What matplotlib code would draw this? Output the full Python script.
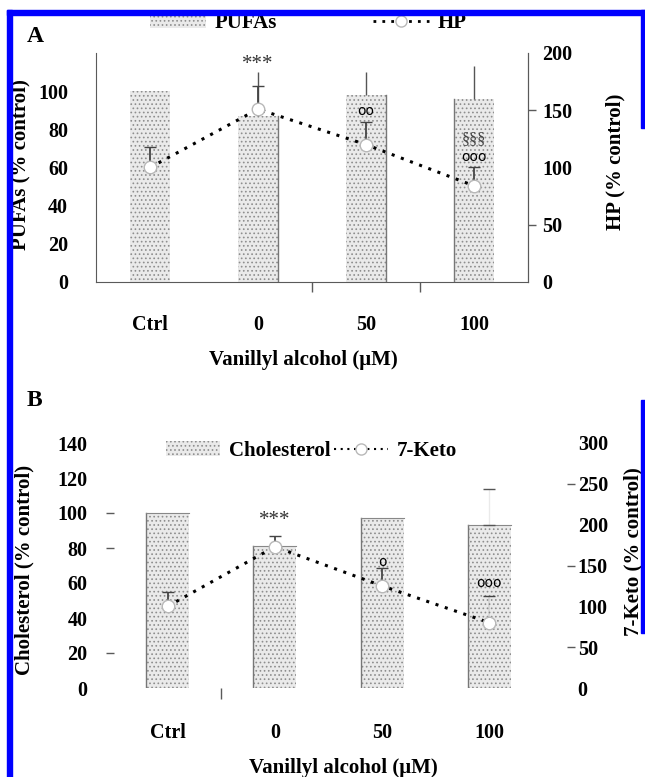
import matplotlib
matplotlib.use("Agg")
import numpy as np
import matplotlib.pyplot as plt
from matplotlib.lines import Line2D
from matplotlib.patches import Patch, Rectangle

categories = ["Ctrl", "0", "50", "100"]

# panel A: PUFAs (bars, left axis) and HP (line, right axis), % of control
pufa = [100, 87, 98, 96]
pufa_err = [0, 23, 12, 17]
hp = [100, 151, 120, 84]
hp_err = [18, 20, 20, 16]

# panel B: cholesterol (bars) and 7-ketocholesterol (line)
chol = [100, 81, 97, 93]
chol_err = [0, 0, 0, 21]
keto = [100, 173, 125, 80]
keto_err = [18, 13, 22, 33]

W, H = 645, 777
plt.rcParams["font.family"] = ["Liberation Serif", "DejaVu Serif"]
plt.rcParams["font.weight"] = "bold"
plt.rcParams["hatch.linewidth"] = 0.7

BAR_FACE = "#eaeaea"
HATCH_COL = "#8e8e8e"
AXIS_COL = "#5a5a5a"


def box(l, t, r, b):
    # pixel box -> figure fraction [left, bottom, width, height]
    return [l / W, 1 - b / H, (r - l) / W, (b - t) / H]


def draw_series(ax, ax2, bars, bars_err, line, line_err, width, edge_side,
                bar_caps=False, top_edges=False, faint=()):
    x = np.arange(len(categories))
    rects = ax.bar(x, bars, width=width, color=BAR_FACE, edgecolor=HATCH_COL,
                   hatch="....", linewidth=0, zorder=1)
    for r, side in zip(rects, edge_side):
        x0, x1, h = r.get_x(), r.get_x() + r.get_width(), r.get_height()
        if side is not None:
            ex = x0 if side == "l" else x1
            ax.plot([ex, ex], [0, h], color="#777777", lw=1, zorder=2)
        if top_edges:
            ax.plot([x0, x1], [h, h], color="#888888", lw=0.8, zorder=2)
    # only bars that carry an error value get an error bar
    be = np.asarray(bars_err)
    sel = be > 0
    eb = ax.errorbar(x[sel], np.asarray(bars)[sel], yerr=[np.zeros(sel.sum()), be[sel]],
                     fmt="none", ecolor="#555555", elinewidth=1,
                     capsize=4 if bar_caps else 0, zorder=2)
    if bar_caps:
        eb[2][0].set_alpha(0.12)
    eb2 = ax2.errorbar(x, line, yerr=[np.zeros(len(x)), line_err], fmt="none",
                       ecolor="#444444", elinewidth=1.3, capsize=4, capthick=1, zorder=2)
    if faint:
        alphas = [0.12 if i in faint else 1.0 for i in range(len(x))]
        eb2[2][0].set_color([(0.27, 0.27, 0.27, a) for a in alphas])
    ax2.plot(x, line, color="black", lw=2.2, linestyle=(0, (1, 2.2)),
             marker="o", markersize=9, markerfacecolor="white",
             markeredgecolor="#b8b8b8", markeredgewidth=1, zorder=3)
    return x


fig = plt.figure(figsize=(W / 100, H / 100), dpi=100)

# ---------------- panel A ----------------
axA = fig.add_axes(box(96, 53, 528, 282))
axA2 = axA.twinx()
xA = draw_series(axA, axA2, pufa, pufa_err, hp, hp_err, 0.37, [None, "r", "r", "l"])

axA.set_xlim(-0.5, 3.5)
axA.set_ylim(0, 120)
axA2.set_ylim(0, 200)
axA.set_yticks([0, 20, 40, 60, 80, 100])
axA2.set_yticks([0, 50, 100, 150, 200])
axA.set_xticks(xA)
axA.set_xticklabels(categories)
axA.set_xticks([1.5, 2.5], minor=True)
axA.tick_params(axis="x", which="major", length=0, pad=24, labelsize=14.5)
axA.tick_params(axis="x", which="minor", length=7, color=AXIS_COL, width=1)
axA.tick_params(axis="y", length=0, pad=20, labelsize=14.5)
axA2.tick_params(axis="y", length=6, color=AXIS_COL, width=1, pad=4, labelsize=14.5)
for i, t in enumerate(axA2.yaxis.get_major_ticks()):
    t.tick2line.set_visible(i in (1, 3))
for ax in (axA, axA2):
    ax.spines["top"].set_visible(False)
    for s in ("left", "right", "bottom"):
        ax.spines[s].set_color(AXIS_COL)
axA2.spines["left"].set_visible(False)
axA2.spines["bottom"].set_visible(False)

axA2.text(1, 190, "***", ha="center", va="center", fontsize=15,
          fontweight="normal", color="#333333")
axA2.text(2, 149, "oo", ha="center", va="center", fontsize=10,
          family="DejaVu Sans", fontweight="normal")
axA2.text(3, 125, "§§§", ha="center", va="center", fontsize=11.5,
          fontweight="normal", color="#444444")
axA2.text(3, 109, "ooo", ha="center", va="center", fontsize=10,
          family="DejaVu Sans", fontweight="normal")

fig.text(20 / W, 1 - 165 / H, "PUFAs (% control)", rotation=90,
         ha="center", va="center", fontsize=15)
fig.text(615 / W, 1 - 162 / H, "HP (% control)", rotation=90,
         ha="center", va="center", fontsize=15)
fig.text(303 / W, 1 - 360 / H, "Vanillyl alcohol (μM)",
         ha="center", va="center", fontsize=15)
fig.text(35 / W, 1 - 36 / H, "A", ha="center", va="center", fontsize=17)

handlesA = [Patch(facecolor=BAR_FACE, edgecolor=HATCH_COL, hatch="....", linewidth=0),
            Line2D([], [], color="black", lw=2, linestyle=(0, (1, 2.2)), marker="o",
                   markersize=8, markerfacecolor="white", markeredgecolor="#b8b8b8")]
fig.legend(handlesA, ["PUFAs", "HP"], loc="center left",
           bbox_to_anchor=(150 / W, 1 - 23 / H), ncol=2, frameon=False,
           fontsize=15, handlelength=2.7, handletextpad=0.4, columnspacing=4.6,
           borderpad=0, borderaxespad=0)

# ---------------- panel B ----------------
axB = fig.add_axes(box(114, 443, 543, 688))
axB2 = axB.twinx()
xB = draw_series(axB, axB2, chol, chol_err, keto, keto_err, 0.4, ["l", "l", "l", "l"],
                 bar_caps=True, top_edges=True, faint=(3,))

axB.set_xlim(-0.5, 3.5)
axB.set_ylim(0, 140)
axB2.set_ylim(0, 300)
axB.set_yticks(np.arange(0, 141, 20))
axB2.set_yticks(np.arange(0, 301, 50))
axB.set_xticks(xB)
axB.set_xticklabels(categories)
axB.set_xticks([0.5], minor=True)
axB.tick_params(axis="x", which="major", length=0, pad=25, labelsize=14.5)
axB.tick_params(axis="x", which="minor", length=8, color=AXIS_COL, width=1)
axB.tick_params(axis="y", length=6, color=AXIS_COL, width=1, pad=13, labelsize=14.5)
axB2.tick_params(axis="y", length=6, color=AXIS_COL, width=1, pad=2, labelsize=14.5)
axB2.spines["right"].set_position(("outward", 17))
for i, t in enumerate(axB.yaxis.get_major_ticks()):
    t.tick1line.set_visible(i in (1, 4, 5))
for i, t in enumerate(axB2.yaxis.get_major_ticks()):
    t.tick2line.set_visible(i in (1, 3, 5))
for ax in (axB, axB2):
    for s in ax.spines.values():
        s.set_visible(False)

axB2.text(1, 205, "***", ha="center", va="center", fontsize=15,
          fontweight="normal", color="#333333")
axB2.text(2, 154, "o", ha="center", va="center", fontsize=10,
          family="DejaVu Sans", fontweight="normal")
axB2.text(3, 129, "ooo", ha="center", va="center", fontsize=10,
          family="DejaVu Sans", fontweight="normal")

fig.text(24 / W, 1 - 570 / H, "Cholesterol (% control)", rotation=90,
         ha="center", va="center", fontsize=15)
fig.text(633 / W, 1 - 552 / H, "7-Keto (% control)", rotation=90,
         ha="center", va="center", fontsize=15)
fig.text(343 / W, 1 - 768 / H, "Vanillyl alcohol (μM)",
         ha="center", va="center", fontsize=15)
fig.text(34 / W, 1 - 400 / H, "B", ha="center", va="center", fontsize=17)

handlesB = [Patch(facecolor=BAR_FACE, edgecolor=HATCH_COL, hatch="....", linewidth=0),
            Line2D([], [], color="black", lw=1.5, linestyle=(0, (1, 2.2)), marker="o",
                   markersize=8, markerfacecolor="white", markeredgecolor="#b8b8b8")]
fig.legend(handlesB, ["Cholesterol", "7-Keto"], loc="center left",
           bbox_to_anchor=(166 / W, 1 - 451 / H), ncol=2, frameon=False,
           fontsize=15, handlelength=2.6, handletextpad=0.4, columnspacing=0.2,
           borderpad=0, borderaxespad=0)

# blue frame pieces along the page edges
blue = "#0000ff"
for l, t, r, b in [(7, 10, 12, 777), (7, 10, 645, 15), (641, 10, 645, 128), (641, 400, 645, 633)]:
    fig.add_artist(Rectangle((l / W, 1 - b / H), (r - l) / W, (b - t) / H,
                             transform=fig.transFigure, color=blue, zorder=10))

fig.savefig("out.png", dpi=100)
